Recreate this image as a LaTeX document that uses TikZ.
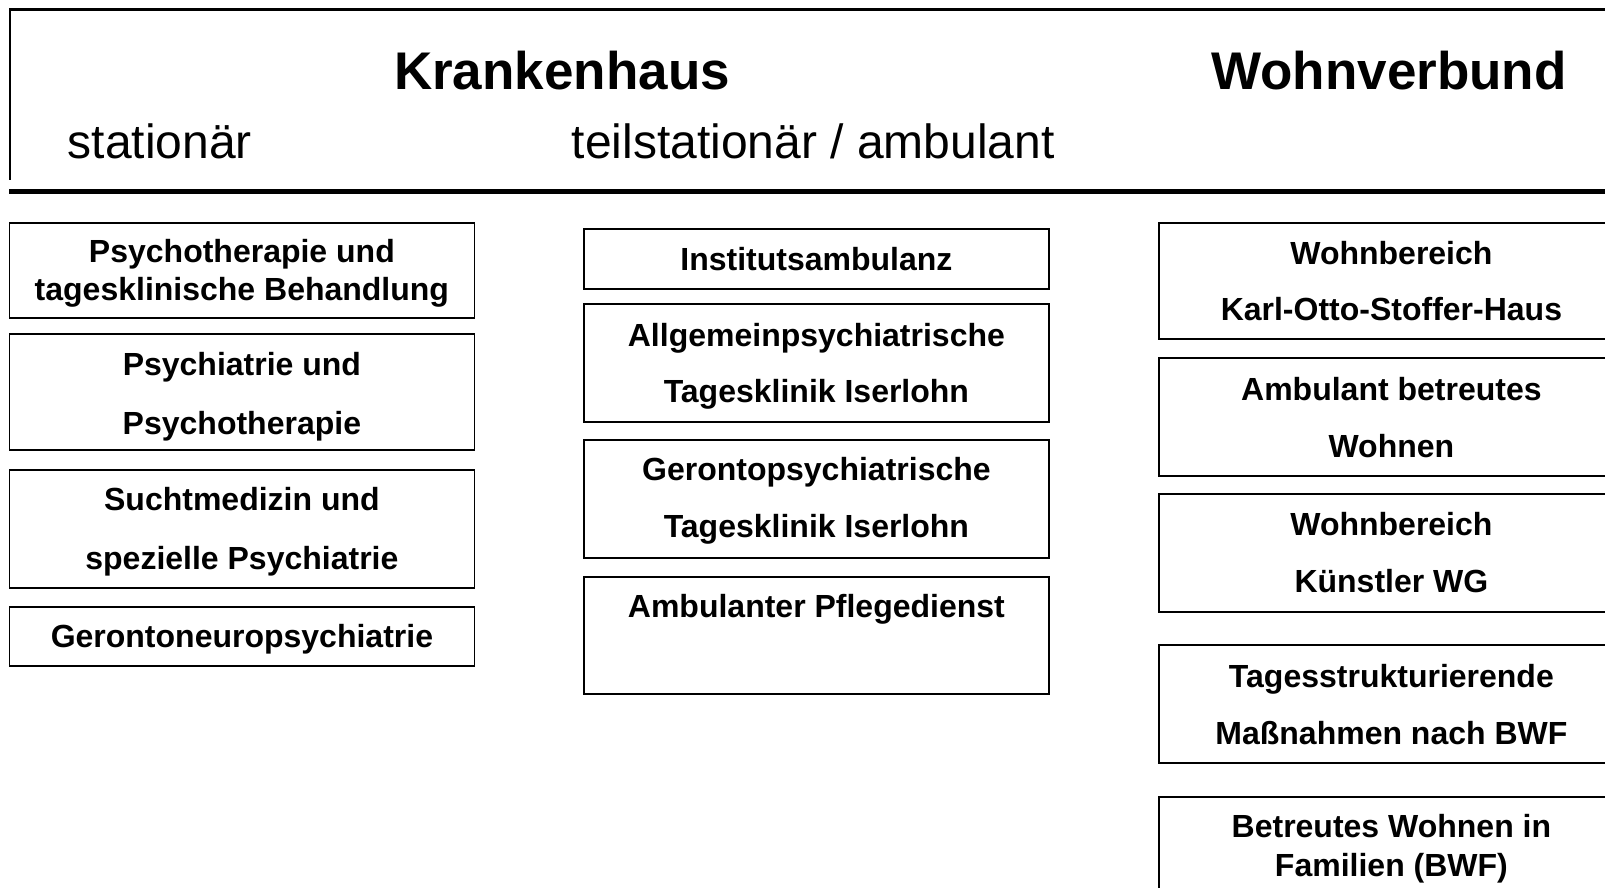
\documentclass[tikz,border=0pt]{standalone}
\usepackage{fontspec}
\setmainfont{Liberation Sans}
\newcommand\myTop[1]{\rule{0pt}{#1pt}}
\newcommand\myBot{\rule[-14pt]{0pt}{14pt}}
\newcommand\myOne[2]{\rule[-#2pt]{0pt}{\dimexpr#1pt+#2pt\relax}}
\begin{document}
\begin{tikzpicture}[x=1pt,y=-1pt,
  box/.style={draw=black,line width=1.8pt,rectangle,minimum width=465pt,anchor=north west,
    inner sep=0pt,align=center,font=\bfseries\fontsize{32}{57}\selectfont},
  head/.style={anchor=base,inner sep=0pt,font=\bfseries\fontsize{53}{60}\selectfont},
  sub/.style={anchor=base west,inner sep=0pt,font=\fontsize{48}{56}\selectfont}]
\clip (0,0) rectangle (1605,888);
\fill[white] (0,0) rectangle (1605,888);
% header frame
\draw[line width=3pt] (9,10) -- (1605,10);
\draw[line width=2pt] (10,9) -- (10,180);
\draw[line width=5pt] (9,191) -- (1605,191);
% headings
\node[head] (kh) at (562,89.5) {Krankenhaus};
\node[head] (wv) at (1389,89.5) {Wohnverbund};
\node[sub] (st) at (67.5,158) {stationär};
\node[sub] (ta) at (571.5,158) {teilstationär / ambulant};
% left column
\node[box,minimum height=95pt,font=\bfseries\fontsize{32}{38}\selectfont] (l1) at (8.5,221.7) {\myTop{37.6}Psychotherapie und\\tagesklinische Behandlung\myBot};
\node[box,minimum height=116pt,font=\bfseries\fontsize{32}{59}\selectfont] (l2) at (8.5,333) {\myTop{41}Psychiatrie und\\Psychotherapie\myBot};
\node[box,minimum height=118pt,font=\bfseries\fontsize{32}{59}\selectfont] (l3) at (8.5,469) {\myTop{37}Suchtmedizin und\\spezielle Psychiatrie\myBot};
\node[box,minimum height=59pt] (l4) at (8.5,606) {\myOne{37}{14}Gerontoneuropsychiatrie};
% middle column
\node[box,minimum height=60pt] (m1) at (583,228) {\myOne{38}{14}Institutsambulanz};
\node[box,minimum height=118pt,font=\bfseries\fontsize{32}{56.7}\selectfont] (m2) at (583,303) {\myTop{37.3}Allgemeinpsychiatrische\\Tagesklinik Iserlohn\myBot};
\node[box,minimum height=118pt] (m3) at (583,439) {\myTop{35}Gerontopsychiatrische\\Tagesklinik Iserlohn\myBot};
\node[box,minimum height=117pt] (m4) at (583,576) {\myOne{34}{69}Ambulanter Pflegedienst};
% right column
\node[box,minimum height=116pt,font=\bfseries\fontsize{32}{56}\selectfont] (r1) at (1158,222) {\myTop{38}Wohnbereich\\Karl-Otto-Stoffer-Haus\myBot};
\node[box,minimum height=118pt] (r2) at (1158,357) {\myTop{39}Ambulant betreutes\\Wohnen\myBot};
\node[box,minimum height=118pt] (r3) at (1158,493) {\myTop{37}Wohnbereich\\Künstler WG\myBot};
\node[box,minimum height=118pt,font=\bfseries\fontsize{32}{57}\selectfont] (r4) at (1158,644) {\myTop{39}Tagesstrukturierende\\Maßnahmen nach BWF\myBot};
\node[box,minimum height=99pt,font=\bfseries\fontsize{32}{39}\selectfont] (r5) at (1158,796) {\myTop{36}Betreutes Wohnen in\\Familien (BWF)\myBot};
\end{tikzpicture}
\end{document}
